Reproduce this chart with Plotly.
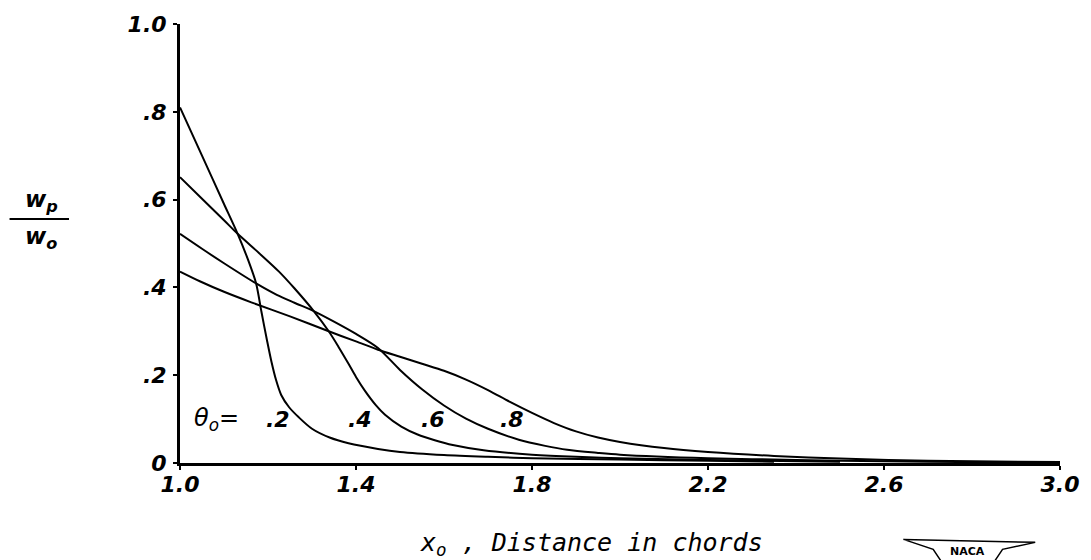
import plotly.graph_objects as go

# ---- data ----
theta_labels = [".2", ".4", ".6", ".8"]

x_02 = [1.00, 1.05, 1.10, 1.131, 1.155, 1.173, 1.185, 1.198, 1.208, 1.218, 1.23, 1.248, 1.27, 1.30,
        1.34, 1.383, 1.45, 1.50, 1.60, 1.70, 1.80, 2.00, 2.20, 2.35]
y_02 = [0.81, 0.70, 0.59, 0.522, 0.462, 0.409, 0.345, 0.278, 0.23, 0.19, 0.155, 0.127, 0.104, 0.078,
        0.058, 0.045, 0.032, 0.025, 0.018, 0.014, 0.011, 0.008, 0.005, 0.003]

x_04 = [1.00, 1.05, 1.10, 1.131, 1.18, 1.225, 1.26, 1.304, 1.338, 1.36, 1.383, 1.40, 1.42, 1.445,
        1.466, 1.503, 1.54, 1.579, 1.62, 1.69, 1.80, 1.90, 2.00, 2.20, 2.50]
y_04 = [0.651, 0.602, 0.553, 0.522, 0.478, 0.436, 0.398, 0.346, 0.30, 0.265, 0.226, 0.196, 0.165, 0.132,
        0.110, 0.083, 0.065, 0.052, 0.041, 0.029, 0.019, 0.014, 0.011, 0.007, 0.003]

x_06 = [1.00, 1.05, 1.10, 1.173, 1.22, 1.26, 1.304, 1.35, 1.40, 1.45, 1.50, 1.55, 1.60, 1.65,
        1.70, 1.77, 1.83, 1.88, 1.95, 2.00, 2.20, 2.40, 2.60, 2.80, 3.00]
y_06 = [0.522, 0.488, 0.455, 0.409, 0.383, 0.365, 0.346, 0.322, 0.294, 0.262, 0.212, 0.168, 0.131, 0.101,
        0.078, 0.053, 0.039, 0.030, 0.023, 0.019, 0.011, 0.007, 0.004, 0.002, 0.001]

x_08 = [1.00, 1.045, 1.10, 1.162, 1.25, 1.338, 1.40, 1.45, 1.50, 1.55, 1.60, 1.65, 1.70, 1.75,
        1.80, 1.85, 1.90, 1.95, 2.00, 2.10, 2.20, 2.35, 2.50, 2.70, 3.00]
y_08 = [0.436, 0.414, 0.39, 0.366, 0.334, 0.30, 0.277, 0.258, 0.242, 0.226, 0.21, 0.19, 0.166, 0.139,
        0.114, 0.091, 0.072, 0.058, 0.048, 0.034, 0.025, 0.016, 0.010, 0.005, 0.002]

label_x = [1.223, 1.41, 1.575, 1.755]
label_y = [0.10, 0.10, 0.10, 0.10]

x_ticks = [1.0, 1.4, 1.8, 2.2, 2.6, 3.0]
x_ticktext = ["1.0", "1.4", "1.8", "2.2", "2.6", "3.0"]
y_ticks = [0, 0.2, 0.4, 0.6, 0.8, 1.0]
y_ticktext = ["0", ".2", ".4", ".6", ".8", "1.0"]

FONT = "DejaVu Sans"
MONO = "DejaVu Sans Mono"

fig = go.Figure()
for xs, ys, name in [(x_02, y_02, ".2"), (x_04, y_04, ".4"), (x_06, y_06, ".6"), (x_08, y_08, ".8")]:
    fig.add_trace(go.Scatter(x=xs, y=ys, mode="lines", name=name,
                             line=dict(color="black", width=2, shape="spline", smoothing=0.8),
                             showlegend=False, hoverinfo="skip"))

annotations = []
for t, lx, ly in zip(theta_labels, label_x, label_y):
    annotations.append(dict(x=lx, y=ly, xref="x", yref="y", text=t, showarrow=False,
                            xanchor="center", yanchor="middle",
                            font=dict(family=FONT, size=22, color="black", style="italic", weight="bold")))
annotations.append(dict(x=1.082, y=0.10, xref="x", yref="y", text="θ<sub>o</sub>=", showarrow=False,
                        xanchor="center", yanchor="middle",
                        font=dict(family=FONT, size=24, color="black", style="italic")))
# y-axis title as a fraction
annotations.append(dict(x=(40 - 180) / 888, y=(463 - 199) / 442.5, xref="paper", yref="paper",
                        text="w<sub>p</sub>", showarrow=False, xanchor="center", yanchor="middle",
                        font=dict(family=FONT, size=23, color="black", style="italic", weight="bold")))
annotations.append(dict(x=(40 - 180) / 888, y=(463 - 236) / 442.5, xref="paper", yref="paper",
                        text="w<sub>o</sub>", showarrow=False, xanchor="center", yanchor="middle",
                        font=dict(family=FONT, size=23, color="black", style="italic", weight="bold")))
# x-axis title
annotations.append(dict(x=(595 - 180) / 888, y=(463 - 545) / 442.5, xref="paper", yref="paper",
                        text="x<sub>o</sub> , Distance in chords", showarrow=False,
                        xanchor="center", yanchor="middle",
                        font=dict(family=MONO, size=25, color="black", style="italic")))
# NACA logo text
annotations.append(dict(x=(975 - 180) / 888, y=(463 - 552) / 442.5, xref="paper", yref="paper",
                        text="<b>NACA</b>", showarrow=False, xanchor="center", yanchor="middle",
                        font=dict(family=FONT, size=11, color="black")))

def px2paper(px, py):
    return (px - 180) / 888, (463 - py) / 442.5

pts = [(910, 540), (1043, 543), (1010, 550), (1002, 562), (948, 562), (940, 550)]
path = "M " + " L ".join("%.4f,%.4f" % px2paper(a, b) for a, b in pts) + " Z"

shapes = [
    dict(type="line", xref="paper", yref="paper",
         x0=(8 - 180) / 888, x1=(68 - 180) / 888, y0=(463 - 217) / 442.5, y1=(463 - 217) / 442.5,
         line=dict(color="black", width=2)),
    dict(type="path", xref="paper", yref="paper", path=path, line=dict(color="black", width=1.5)),
]

fig.update_layout(
    width=1091, height=560,
    margin=dict(l=180, r=23, t=20, b=97),
    paper_bgcolor="white", plot_bgcolor="white",
    font=dict(family=FONT, color="black"),
    annotations=annotations, shapes=shapes,
    xaxis=dict(range=[1.0, 3.0], tickvals=x_ticks, ticktext=x_ticktext,
               showgrid=False, zeroline=False, showline=True, linecolor="black", linewidth=3,
               ticks="outside", ticklen=4, tickwidth=2, tickcolor="black", ticklabelstandoff=-4,
               ticklabeloverflow="allow",
               tickfont=dict(family=FONT, size=22, color="black", style="italic", weight="bold")),
    yaxis=dict(range=[0, 1.0], tickvals=y_ticks, ticktext=y_ticktext,
               showgrid=False, zeroline=False, showline=True, linecolor="black", linewidth=3,
               ticks="outside", ticklen=4, tickwidth=2, tickcolor="black", ticklabelstandoff=2,
               ticklabeloverflow="allow",
               tickfont=dict(family=FONT, size=22, color="black", style="italic", weight="bold")),
)

# remove the default 8px page margin so the figure fills the window exactly
fig.write_html("out.html", config={"displayModeBar": False},
               post_script="document.body.style.margin='0';document.body.style.overflow='hidden';")
